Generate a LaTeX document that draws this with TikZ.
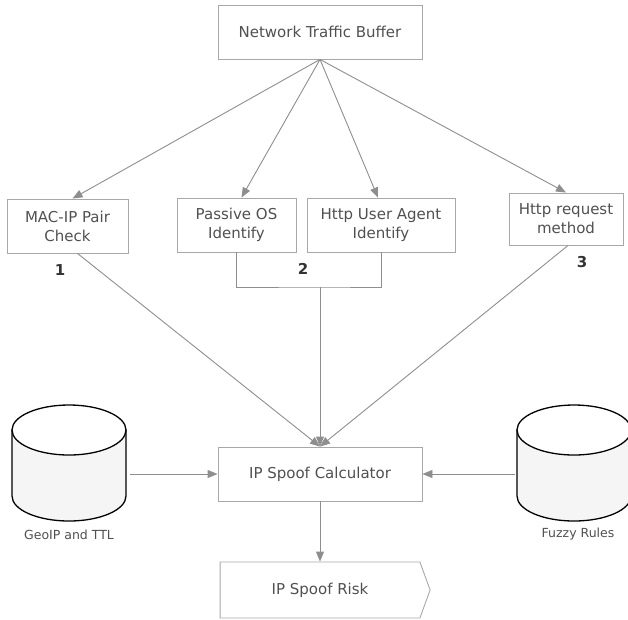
\documentclass[tikz,border=0pt]{standalone}
\usepackage{fontspec}
\setmainfont{DejaVu Sans}
\usetikzlibrary{arrows.meta,shapes.symbols}
\definecolor{boxgray}{HTML}{A8A8A8}
\definecolor{linegray}{HTML}{8E8E8E}
\definecolor{textgray}{HTML}{505050}
\tikzset{
  box/.style={rectangle, draw=boxgray, line width=0.9pt, text=textgray, align=center,
    font=\fontsize{15}{19}\selectfont, inner sep=2pt},
  arr/.style={draw=linegray, line width=0.9pt, -{Triangle[length=10pt,width=8pt]}},
  link/.style={draw=linegray, line width=0.9pt},
  db/.style={rectangle, minimum width=114pt, minimum height=116pt, inner sep=0pt},
  drum/.style={draw=black, line width=1.3pt},
  num/.style={font=\fontsize{15}{18}\selectfont\bfseries, text=black!80},
  dblabel/.style={font=\fontsize{12.5}{15}\selectfont, text=textgray}
}
% database drum drawn round a node
\newcommand\dbdrum[1]{%
  \filldraw[drum, fill=black!4] ([shift={(-57,-33)}]#1.center) -- ([shift={(-57,33)}]#1.center)
    arc[start angle=180, end angle=360, x radius=57, y radius=-25] -- ([shift={(57,-33)}]#1.center) -- cycle;
  \filldraw[drum, fill=white] ([shift={(0,-33)}]#1.center) ellipse[x radius=57, y radius=25];
}
\begin{document}
\begin{tikzpicture}[x=1pt,y=-1pt]
\useasboundingbox (0,0) rectangle (628,619);

\draw
(320,32) node[box, minimum width=204pt, minimum height=54pt](buffer){Network Traffic Buffer}
(67.5,226) node[box, minimum width=121pt, minimum height=54pt](macip){MAC-IP Pair\\Check}
(236.5,225) node[box, minimum width=119pt, minimum height=54pt](passive){Passive OS\\Identify}
(381,225) node[box, minimum width=148pt, minimum height=54pt](agent){Http User Agent\\Identify}
(566,219) node[box, minimum width=114pt, minimum height=52pt](method){Http request\\method}
(320,474) node[box, minimum width=204pt, minimum height=54pt](calc){IP Spoof Calculator}
(320,590) node[signal, signal to=east, signal pointer angle=140, draw=boxgray, line width=0.9pt,
  text=textgray, font=\fontsize{15}{19}\selectfont, minimum width=210pt, minimum height=56pt](risk){IP Spoof Risk};

\node[db] (geoip) at (69,463) {};
\node[db] (fuzzy) at (574,463) {};
\dbdrum{geoip}
\dbdrum{fuzzy}
\node[dblabel] (geolabel) at (69,535) {GeoIP and TTL};
\node[dblabel] (fuzzylabel) at (578,534) {Fuzzy Rules};

\node[num] (one) at (60,270) {1};
\node[num] (two) at (303,269) {2};
\node[num] (three) at (582,262) {3};

% buffer to the checks
\draw[arr] (buffer.south) -- ([xshift=5pt]macip.north);
\draw[arr] (buffer.south) -- ([xshift=5pt]passive.north);
\draw[arr] (buffer.south) -- ([xshift=-3pt]agent.north);
\draw[arr] (buffer.south) -- (method.north);

% checks to calculator
\coordinate (join) at (320,287);
\draw[link] (passive.south) |- (join) -| (agent.south);
\draw[arr] (join) -- (calc.north);
\draw[arr] ([xshift=10pt]macip.south) -- (calc.north);
\draw[arr] ([xshift=2pt]method.south) -- (calc.north);

\draw[arr] (geoip.east |- calc.west) ++(4,0) -- (calc.west);
\draw[arr] (fuzzy.west |- calc.east) ++(-2,0) -- (calc.east);
\draw[arr] (calc.south) -- (risk.north);

\end{tikzpicture}
\end{document}
